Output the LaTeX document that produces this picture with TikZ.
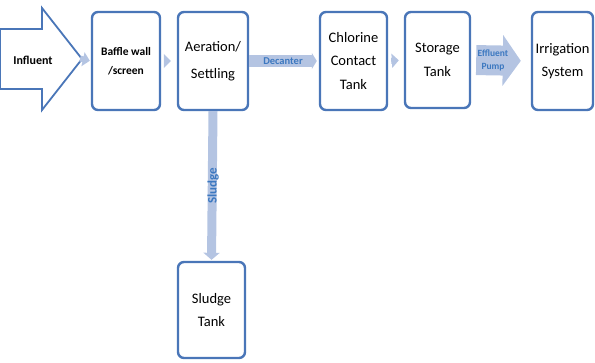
\documentclass[tikz,border=0pt]{standalone}
\usepackage{fontspec}
\setmainfont{Carlito}
\usetikzlibrary{arrows.meta}
\definecolor{boxblue}{HTML}{4A76B8}
\definecolor{flowgray}{HTML}{B4C4E2}
\definecolor{labelblue}{HTML}{3C78C0}

\begin{document}
\begin{tikzpicture}[x=1pt,y=-1pt,
  procbox/.style={draw=boxblue, line width=2.4pt, rounded corners=6pt, fill=white, text=black,
    align=center, font=\fontsize{14.5}{23.5}\selectfont},
  gaparrow/.style={draw=flowgray, line width=6pt, -{Triangle[width=14pt,length=7pt]}},
  flowlabel/.style={text=labelblue, font=\fontsize{9}{10}\selectfont\bfseries}]
  \useasboundingbox (0,0) rectangle (595,362);

  % Inflow
  \draw[boxblue, line width=1.8pt, fill=white, line join=miter]
    (0,29) -- (42,29) -- (42,8) -- (82,59) -- (42,110) -- (42,89) -- (0,89) -- cycle;
  \coordinate (influenttip) at (82,59);
  \node[font=\fontsize{12}{14}\selectfont\bfseries] (influent) at (33,60) {Influent};

  % Treatment train
  \node[procbox, minimum width=68pt, minimum height=98pt, font=\fontsize{11.5}{19}\selectfont\bfseries]
    (baffle) at (126,61) {Baffle wall\\/screen};
  \node[procbox, minimum width=70pt, minimum height=98pt, font=\fontsize{14.5}{27}\selectfont]
    (aeration) at (213,61) {Aeration/\\Settling};
  \node[procbox, minimum width=67pt, minimum height=98pt] (chlorine) at (353.5,61) {Chlorine\\Contact\\Tank};
  \node[procbox, minimum width=65pt, minimum height=96pt] (storage) at (437.5,60) {Storage\\Tank};
  \node[procbox, minimum width=61pt, minimum height=98pt] (irrigation) at (562.5,61) {Irrigation\\System};
  \node[procbox, minimum width=67pt, minimum height=96pt] (sludgetank) at (211.5,310) {Sludge\\Tank};

  % Connections
  \draw[gaparrow, shorten <=-2pt, shorten >=1pt] (influenttip) -- (baffle.west);
  \draw[gaparrow, shorten <=3pt, shorten >=6pt] (baffle.east) -- (aeration.west);
  \draw[gaparrow, shorten <=3pt, shorten >=5pt] (chlorine.east) -- (storage.west);

  % Named flows
  \draw[draw=flowgray, line width=12pt, -{Triangle[width=16pt,length=5pt]}, shorten >=2pt]
    (aeration.east) -- node[flowlabel, font=\fontsize{10.5}{12}\selectfont\bfseries, xshift=-1pt] (decanter) {Decanter} (chlorine.west);
  \draw[draw=flowgray, line width=30pt, -{Triangle[width=50pt,length=18pt]}, shorten <=5pt, shorten >=10pt]
    (storage.east) -- node[flowlabel, align=center, font=\fontsize{9.5}{13}\selectfont\bfseries, xshift=-8pt]
    (pump) {Effluent\\Pump} (irrigation.west);
  \draw[draw=flowgray, line width=9pt, -{Triangle[width=16pt,length=7pt]}, shorten >=1pt]
    (aeration.south) -- node[flowlabel, rotate=90, font=\fontsize{13}{14}\selectfont\bfseries, yshift=-1pt]
    (sludge) {Sludge} (sludgetank.north);
\end{tikzpicture}
\end{document}
